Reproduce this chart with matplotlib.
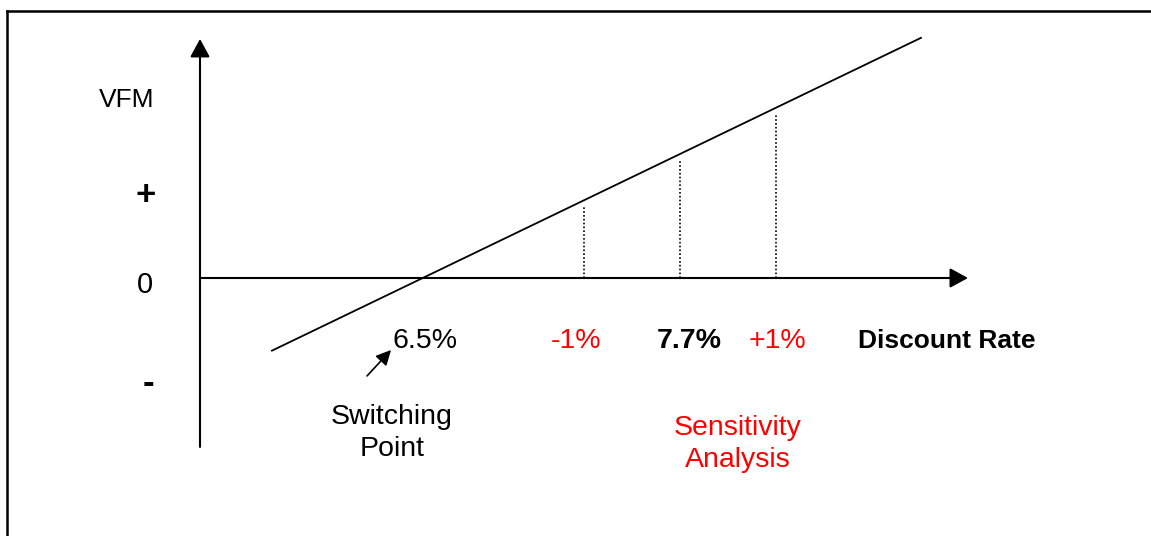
import numpy as np
import matplotlib.pyplot as plt
from matplotlib.lines import Line2D

plt.rcParams['font.family'] = ['Liberation Sans', 'DejaVu Sans']

# schematic units: y axis at x=0, discount-rate axis at VFM=0
switch_x = 2.32          # where the VFM line crosses zero (6.5%)
slope = 0.482            # VFM per unit of discount rate (schematic)
line_x = np.array([0.75, 7.51])

sens_x = [4.0, 5.0, 6.0]                 # -1%, base 7.7%, +1%
rate_labels = ['6.5%', '-1%', '7.7%', '+1%']
rate_label_x = [2.34, 3.92, 5.1, 6.02]
rate_colors = ['black', 'red', 'black', 'red']
rate_weights = ['normal', 'normal', 'bold', 'normal']

sign_labels = ['+', '0', '-']
sign_y = [0.86, -0.07, -1.10]
sign_x = [-0.57, -0.57, -0.54]
sign_sizes = [25, 21, 25]
sign_weights = ['bold', 'normal', 'bold']

fig = plt.figure(figsize=(11.51, 5.36), dpi=100)
ax = fig.add_axes([0, 0, 1, 1])
ax.set_xlim(-200 / 96, (1151 - 200) / 96)
ax.set_ylim(-258 / 96, 278 / 96)
ax.axis('off')

# frame (top and left edges only visible)
fig.add_artist(Line2D([7 / 1151, 7 / 1151], [0, 1 - 11 / 536], color='black', lw=1.8))
fig.add_artist(Line2D([7 / 1151, 1], [1 - 11 / 536, 1 - 11 / 536], color='black', lw=1.8))

# axes with arrows
arrow = dict(arrowstyle='-|>,head_length=0.55,head_width=0.3', color='black',
             lw=1.5, mutation_scale=20, shrinkA=0, shrinkB=0)
ax.annotate('', xy=(0, 2.49), xytext=(0, -1.76), arrowprops=arrow)
ax.annotate('', xy=(8.0, 0), xytext=(0, 0), arrowprops=arrow)

# VFM line
ax.plot(line_x, slope * (line_x - switch_x), color='black', lw=1.3)

# sensitivity dotted lines
for x in sens_x:
    ax.plot([x, x], [0, slope * (x - switch_x) - 0.07], color='black', lw=1.2,
            linestyle=(0, (1, 1.3)))

fs = 20.5
ax.text(-0.76, 1.85, 'VFM', fontsize=fs - 1.5, ha='center', va='center')
for x, y, s, sz, w in zip(sign_x, sign_y, sign_labels, sign_sizes, sign_weights):
    ax.text(x, y, s, fontsize=sz, ha='center', va='center', fontweight=w)

for x, s, c, w in zip(rate_label_x, rate_labels, rate_colors, rate_weights):
    ax.text(x, -0.66, s, fontsize=fs, ha='center', va='center', color=c, fontweight=w)
ax.text(7.78, -0.66, 'Discount Rate', fontsize=19, ha='center', va='center',
        fontweight='bold')

# switching point callout
ax.annotate('', xy=(1.99, -0.75), xytext=(1.74, -1.02),
            arrowprops=dict(arrowstyle='-|>,head_length=0.5,head_width=0.25',
                            color='black', lw=1.2, mutation_scale=18,
                            shrinkA=0, shrinkB=0))
ax.text(2.0, -1.61, 'Switching\nPoint', fontsize=fs, ha='center', va='center',
        linespacing=1.3)
ax.text(5.6, -1.73, 'Sensitivity\nAnalysis', fontsize=fs, ha='center', va='center',
        color='red', linespacing=1.3)

fig.savefig('out.png', dpi=100)
